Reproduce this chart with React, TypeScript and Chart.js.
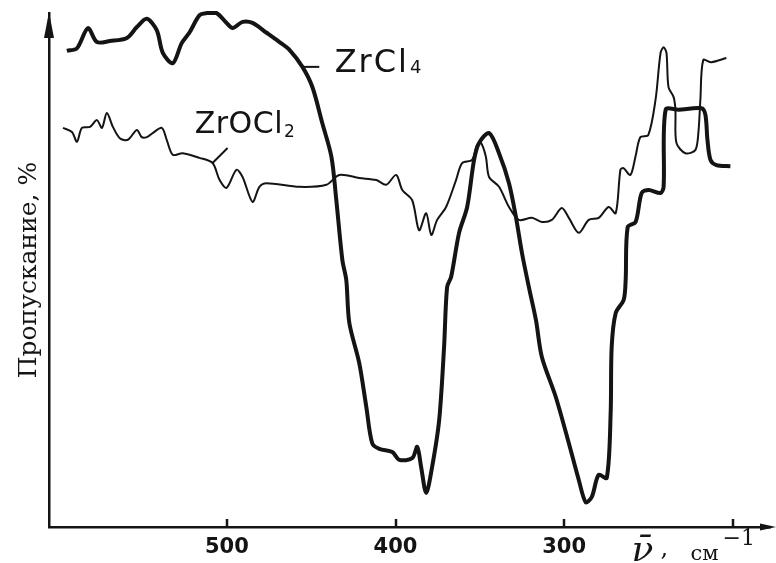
import React, { useEffect, useRef } from 'react';
import { Chart, registerables } from 'chart.js';

Chart.register(...registerables);

// ---- data (wavenumber, cm-1 ; transmission, arbitrary %) ----
const wavenumberZrCl4 = [
  594.9, 588.9, 582.4, 577.1, 569.4, 559.3, 553.4, 547.5, 541.6, 538.0, 532.1, 526.8, 522.1, 516.2,
  512.0, 506.1, 500.2, 496.6, 490.7, 484.8, 476.5, 468.8, 462.9, 455.2, 449.3, 443.4, 438.0, 435.1,
  431.5, 429.2, 427.4, 421.5, 417.3, 413.8, 409.6, 401.9, 397.8, 390.1, 387.1, 384.8, 381.8, 378.3,
  374.1, 371.2, 369.4, 367.0, 362.3, 357.5, 353.4, 350.4, 344.5, 338.6, 332.7, 328.6, 325.0, 320.9,
  316.7, 313.2, 304.9, 297.2, 291.3, 287.2, 283.6, 279.5, 274.7, 272.4, 271.8, 269.4, 264.7, 263.5,
  262.3, 257.6, 254.0, 249.9, 242.8, 241.0, 239.8, 232.1, 218.5, 216.2, 215.0, 213.2, 209.7, 201.4,
];
const transmissionZrCl4 = [
  92.1, 92.6, 96.5, 93.8, 94.0, 94.6, 96.7, 98.3, 96.1, 91.7, 89.7, 93.6, 95.7, 99.0,
  99.4, 99.4, 97.5, 96.5, 97.7, 97.5, 95.6, 93.8, 92.3, 89.0, 85.1, 78.1, 71.6, 63.2,
  51.6, 47.8, 39.5, 31.7, 23.2, 16.2, 15.1, 14.5, 13.0, 13.3, 15.5, 11.6, 6.6, 11.6,
  20.7, 34.8, 46.4, 48.4, 56.9, 61.9, 71.0, 74.3, 76.2, 72.3, 66.5, 60.0, 53.0, 46.4,
  40.0, 32.9, 25.1, 16.2, 9.1, 4.8, 5.8, 10.1, 9.5, 22.1, 34.8, 41.4, 43.9, 47.8,
  58.0, 59.0, 64.6, 65.2, 64.6, 65.8, 80.7, 80.7, 81.0, 79.7, 74.9, 71.0, 70.0, 69.8,
];

const wavenumberZrOCl2 = [
  597.2, 591.9, 588.9, 586.0, 581.2, 577.1, 574.1, 571.2, 567.6, 563.5, 558.7, 553.4, 550.5, 547.5,
  544.0, 538.6, 535.7, 532.1, 526.2, 516.2, 508.5, 504.3, 500.2, 494.3, 490.7, 484.8, 480.7, 476.5,
  457.0, 441.0, 433.3, 421.5, 411.4, 405.5, 399.6, 396.0, 390.1, 386.0, 381.8, 378.8, 375.3, 370.0,
  364.1, 360.5, 354.6, 351.7, 349.3, 346.4, 344.5, 338.6, 332.7, 326.8, 319.1, 313.2, 307.3, 301.4,
  297.2, 291.3, 285.4, 279.5, 273.6, 269.4, 266.6, 264.8, 260.7, 257.7, 254.8, 250.1, 245.8, 242.8,
  241.0, 239.3, 238.1, 235.1, 234.0, 233.4, 228.1, 222.2, 220.4, 219.2, 217.5, 212.7, 203.8,
];
const transmissionZrOCl2 = [
  77.2, 76.4, 74.5, 77.2, 77.4, 78.7, 77.2, 80.1, 77.4, 75.2, 74.9, 76.8, 75.4, 75.4,
  76.2, 77.2, 74.9, 72.0, 72.3, 71.4, 70.4, 67.1, 65.6, 69.1, 67.7, 62.9, 65.8, 66.5,
  65.8, 66.2, 68.1, 67.5, 67.1, 66.2, 68.1, 65.2, 63.2, 57.4, 60.7, 56.5, 59.4, 61.9,
  67.1, 70.4, 71.0, 73.9, 74.3, 71.6, 67.7, 65.8, 61.9, 59.4, 59.8, 59.0, 59.4, 61.7,
  59.8, 56.9, 59.4, 59.8, 61.9, 60.7, 69.1, 69.4, 68.1, 71.6, 75.4, 75.8, 82.6, 91.7,
  92.8, 91.7, 85.1, 83.2, 80.7, 74.3, 72.3, 72.9, 76.2, 82.6, 90.3, 89.9, 90.7,
];

const tickValues = [500, 400, 300, 200];
const tickLabels = ['500', '400', '300', ''];

// curve labels, anchored in data coordinates
const labelMain = ['ZrCl', 'ZrOCl'];
const labelSub = ['4', '2'];
const labelAtX = [436.1, 519.1];
const labelAtY = [88.0, 76.2];
const leaderFromX = [455.2, 508.5];
const leaderFromY = [89.0, 70.4];
const leaderToX = [445.2, 499.6];
const leaderToY = [89.0, 73.3];

// x axis title anchor (cm-1)
const xTitleAt = 258.8;

const INK = '#141414';

const overlayPlugin = {
  id: 'overlay',
  afterDraw(chart: any) {
    const { ctx, chartArea, scales } = chart;
    const xs = scales.x;
    const ys = scales.y;
    ctx.save();
    ctx.strokeStyle = INK;
    ctx.fillStyle = INK;

    // inward tick marks
    ctx.lineWidth = 2.5;
    for (const v of tickValues) {
      const px = Math.round(xs.getPixelForValue(v));
      ctx.beginPath();
      ctx.moveTo(px, chartArea.bottom);
      ctx.lineTo(px, chartArea.bottom - 8);
      ctx.stroke();
    }

    // axis arrows
    const ax = chartArea.left;
    ctx.beginPath();
    ctx.moveTo(ax, chartArea.top - 1);
    ctx.lineTo(ax + 5, chartArea.top + 25);
    ctx.lineTo(ax - 5, chartArea.top + 25);
    ctx.closePath();
    ctx.fill();
    const ay = chartArea.bottom;
    ctx.beginPath();
    ctx.moveTo(chartArea.right + 6, ay);
    ctx.lineTo(chartArea.right - 10, ay - 3.5);
    ctx.lineTo(chartArea.right - 10, ay + 3.5);
    ctx.closePath();
    ctx.fill();

    // leaders
    ctx.lineWidth = 2;
    for (let i = 0; i < labelMain.length; i++) {
      ctx.beginPath();
      ctx.moveTo(xs.getPixelForValue(leaderFromX[i]), ys.getPixelForValue(leaderFromY[i]));
      ctx.lineTo(xs.getPixelForValue(leaderToX[i]), ys.getPixelForValue(leaderToY[i]));
      ctx.stroke();
    }

    // curve labels
    const mainFonts = ['32px "DejaVu Sans"', '30px "DejaVu Sans"'];
    const subFonts = ['18px "DejaVu Sans"', '17px "DejaVu Sans"'];
    const subDrop = [1, 4];
    const spacing = ['2px', '0.5px'];
    ctx.textBaseline = 'alphabetic';
    ctx.textAlign = 'left';
    for (let i = 0; i < labelMain.length; i++) {
      const x = xs.getPixelForValue(labelAtX[i]);
      const y = ys.getPixelForValue(labelAtY[i]);
      (ctx as any).letterSpacing = spacing[i];
      ctx.font = mainFonts[i];
      ctx.fillText(labelMain[i], x, y);
      const w = ctx.measureText(labelMain[i]).width;
      ctx.font = subFonts[i];
      ctx.fillText(labelSub[i], x + w + 1, y + subDrop[i]);
    }
    (ctx as any).letterSpacing = '0px';

    // x axis title: nu-bar, cm^-1
    const tx = xs.getPixelForValue(xTitleAt);
    ctx.font = 'italic 36px "DejaVu Serif"';
    ctx.fillText('\u03bd\u0304', tx - 2, 561);
    ctx.font = '24px "DejaVu Serif"';
    ctx.fillText(',', tx + 27, 556);
    ctx.font = '21px "DejaVu Serif"';
    ctx.fillText('\u0441\u043c', tx + 57, 560);
    ctx.font = '22px "DejaVu Serif"';
    ctx.fillText('\u22121', tx + 89, 545);

    ctx.restore();
  },
};

export default function App() {
  const canvasRef = useRef<HTMLCanvasElement | null>(null);

  useEffect(() => {
    if (!canvasRef.current) return;
    const chart = new Chart(canvasRef.current, {
      type: 'line',
      data: {
        datasets: [
          {
            label: 'ZrCl4',
            data: wavenumberZrCl4.map((x, i) => ({ x, y: transmissionZrCl4[i] })),
            borderColor: INK,
            borderWidth: 4,
            pointRadius: 0,
            tension: 0.3,
            fill: false,
            clip: false as any,
          },
          {
            label: 'ZrOCl2',
            data: wavenumberZrOCl2.map((x, i) => ({ x, y: transmissionZrOCl2[i] })),
            borderColor: INK,
            borderWidth: 2,
            pointRadius: 0,
            tension: 0.3,
            fill: false,
            clip: false as any,
          },
        ],
      },
      options: {
        animation: false,
        responsive: true,
        maintainAspectRatio: false,
        layout: { padding: { top: 13, right: 6, left: 0, bottom: 0 } },
        plugins: { legend: { display: false }, tooltip: { enabled: false } },
        scales: {
          x: {
            type: 'linear',
            reverse: true,
            min: 177.9,
            max: 605.5,
            afterFit: (s: any) => { s.height = 36; },
            afterBuildTicks: (s: any) => { s.ticks = tickValues.map((value) => ({ value })); },
            ticks: {
              autoSkip: false,
              maxRotation: 0,
              padding: 8,
              color: INK,
              font: { family: '"DejaVu Sans"', size: 21, weight: 'bold' },
              callback: (value: any) => tickLabels[tickValues.indexOf(Number(value))] ?? '',
            },
            grid: { display: false, drawTicks: false },
            border: { display: true, color: INK, width: 2.5 },
          },
          y: {
            type: 'linear',
            min: 0,
            max: 99.42,
            afterFit: (s: any) => { s.width = 49; },
            ticks: { display: false },
            grid: { display: false, drawTicks: false },
            border: { display: true, color: INK, width: 2.5 },
            title: {
              display: true,
              text: 'Пропускание, %',
              color: INK,
              font: { family: '"DejaVu Serif"', size: 25 },
              padding: { top: 14, bottom: 0 },
            },
          },
        },
      },
      plugins: [overlayPlugin],
    });
    return () => chart.destroy();
  }, []);

  return (
    <div style={{ position: 'fixed', left: 0, top: 0, width: 776, height: 563, background: '#fff' }}>
      <canvas ref={canvasRef} />
    </div>
  );
}
